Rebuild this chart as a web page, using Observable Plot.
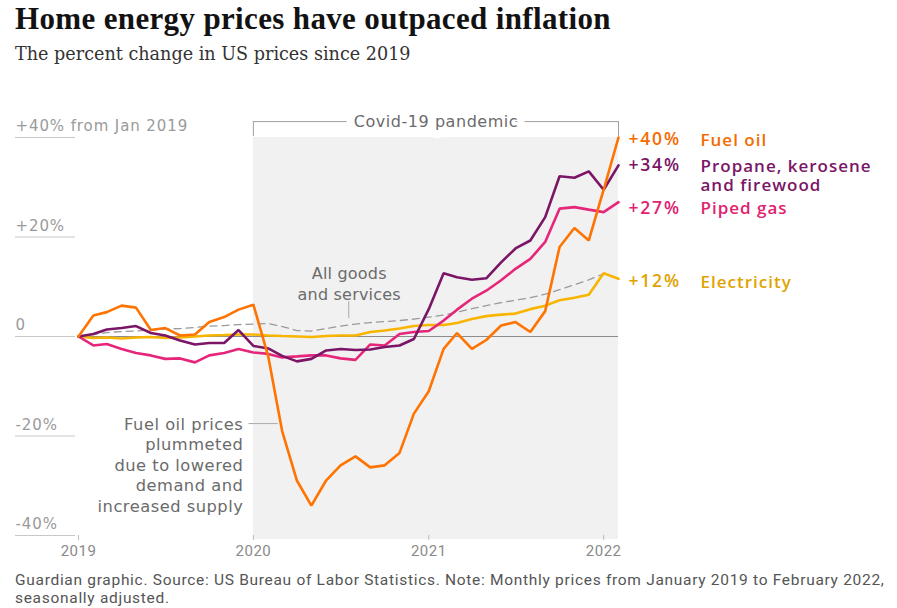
<!DOCTYPE html>
<html><head><meta charset="utf-8">
<script src="https://cdn.jsdelivr.net/npm/d3@7"></script>
<script src="https://cdn.jsdelivr.net/npm/@observablehq/plot@0.6"></script>
<style>
body{margin:0;background:#fff;width:897px;overflow:hidden;}
#title{font-family:"Liberation Serif",serif;font-weight:bold;font-size:31px;line-height:38px;height:38px;padding-left:15px;color:#121212;letter-spacing:0.35px;white-space:nowrap;}
#subtitle{font-family:"DejaVu Serif",serif;font-size:17.6px;line-height:32px;height:32px;padding-left:15px;color:#333;white-space:nowrap;}
#chart{height:500px;}
#caption{font-family:Roboto,sans-serif;font-size:15.5px;line-height:18px;padding-left:15px;padding-top:1px;color:#555;letter-spacing:0.7px;white-space:nowrap;}
</style>
</head><body>
<div id="title">Home energy prices have outpaced inflation</div>
<div id="subtitle">The percent change in US prices since 2019</div>
<div id="chart"></div>
<div id="caption">Guardian graphic. Source: US Bureau of Labor Statistics. Note: Monthly prices from January 2019 to February 2022,<br>seasonally adjusted.</div>
<script>
// ---- data (percent change since Jan 2019, monthly Jan 2019 – Feb 2022) ----
const fuelOil = [0,4.2,4.9,6.2,5.8,1.3,1.7,0.2,0.4,2.9,3.9,5.4,6.4,
  -4,-19,-29,-34,-28.9,-25.9,-24.1,-26.3,-25.9,-23.4,-15.5,-11,
  -2.5,0.7,-2.5,-0.7,2.2,2.9,0.9,5.1,18,21.8,19.3,29.5,40];
const propane = [0,0.5,1.4,1.7,2.1,0.7,0.2,-0.8,-1.6,-1.3,-1.3,1.3,-1.9,
  -2.4,-3.9,-5.0,-4.5,-2.8,-2.5,-2.7,-2.6,-2.1,-1.8,-0.5,5.5,
  12.7,11.9,11.4,11.7,14.9,17.7,19.3,24,32.2,31.9,33.2,29.5,34.4];
const pipedGas = [0,-1.8,-1.5,-2.5,-3.3,-3.8,-4.5,-4.4,-5.2,-3.8,-3.3,-2.5,-3.2,
  -3.5,-4.2,-4.0,-3.8,-3.8,-4.4,-4.7,-1.6,-1.8,0.5,0.9,1.1,
  3.2,5.4,7.6,9.2,11.3,13.6,15.6,19,25.7,26,25.5,25,27];
const electricity = [0,-0.3,-0.2,-0.4,-0.2,-0.1,-0.3,-0.2,0,0.2,0.3,0.4,0.4,
  0.2,0.1,0,-0.1,0.1,0.2,0.2,0.9,1.2,1.6,2.1,2.3,
  2.3,2.7,3.5,4.1,4.4,4.6,5.5,6.2,7.3,7.8,8.4,12.7,11.6];
const allItems = [0,0.4,0.8,1.0,1.1,1.3,1.5,1.6,1.8,2.1,2.2,2.4,2.5,
  2.6,2.0,1.2,1.1,1.6,2.1,2.5,2.8,3.0,3.2,3.5,3.9,
  4.3,4.9,5.6,6.2,6.8,7.3,7.8,8.5,9.4,10.4,11.4,12.6];
const seriesNames = ["Electricity","Piped gas","Propane, kerosene\nand firewood","Fuel oil"];
const seriesValues = [electricity, pipedGas, propane, fuelOil];
const yTicks = [40, 20, 0, -20, -40];
const yTickLabels = ["+40% from Jan 2019", "+20%", "0", "-20%", "-40%"];
const xTicks = ["2019-01-01","2020-01-01","2021-01-01","2022-01-01"];
const covidPeriod = [{start: "2020-01-01", end: "2022-02-01", label: "Covid-19 pandemic"}];

// ---- build ----
const parse = s => new Date(s + "T00:00:00Z");
const start = parse("2019-01-01"), end = parse("2022-02-01");
const months = d3.utcMonth.range(start, d3.utcMonth.offset(end, 1));
const colors = {"Electricity":"#f7b500","Piped gas":"#e5267a","Propane, kerosene\nand firewood":"#7b1566","Fuel oil":"#ff7300"};
const textColors = {"Electricity":"#dfa300","Piped gas":"#e0226f","Propane, kerosene\nand firewood":"#7b1566","Fuel oil":"#f56b00"};
// pixel nudges for end labels (to avoid collisions), converted into y units below
const pctNudge = {"Electricity":3,"Piped gas":6,"Propane, kerosene\nand firewood":0,"Fuel oil":2};
const nameNudge = {"Electricity":3,"Piped gas":6,"Propane, kerosene\nand firewood":10,"Fuel oil":2};

const H = 500, mTop = 67, mBottom = 35;
const pxPerUnit = (H - mTop - mBottom) / 80;

const rows = seriesNames.flatMap((name, i) => seriesValues[i].map((v, j) => ({name, date: months[j], value: v})));
const allRows = allItems.map((v, j) => ({date: months[j], value: v}));
const last = seriesNames.map((name, i) => {
  const vals = seriesValues[i];
  return {name, date: months[vals.length - 1], value: vals[vals.length - 1]};
});
const covid = covidPeriod.map(d => ({start: parse(d.start), end: parse(d.end), label: d.label,
  mid: new Date((parse(d.start).getTime() + parse(d.end).getTime()) / 2)}));
const bracketY = 43.2, bracketLow = 40.2;
const fmtPct = v => (v > 0 ? "+" : "") + Math.round(v) + "%";
const sans = "'DejaVu Sans', sans-serif";
const labelFont = "'Open Sans', sans-serif";

const chart = Plot.plot({
  width: 897, height: H,
  marginTop: mTop, marginBottom: mBottom, marginLeft: 78, marginRight: 279,
  x: {type: "utc", domain: [start, end], label: null},
  y: {domain: [-40, 40], label: null},
  style: {fontFamily: sans, background: "white", overflow: "visible"},
  marks: [
    Plot.rect(covid, {x1: "start", x2: "end", y1: -40.8, y2: 40, fill: "#f1f1f1"}),
    Plot.axisY({ticks: yTicks, tickSize: 60, dx: -3, stroke: "#c8c8c8", fill: "none", strokeWidth: 1, label: null}),
    Plot.axisY({ticks: yTicks, tickSize: 0, tickPadding: 0, dx: -63, dy: -11, textAnchor: "start", label: null,
      tickFormat: d => yTickLabels[yTicks.indexOf(d)], fill: "#9a9a9a", fontSize: 15, ariaDescription: "ylabels"}),
    Plot.axisX({ticks: xTicks.map(parse), tickFormat: d3.utcFormat("%Y"), tickSize: 5, tickPadding: 5, label: null,
      stroke: "#bbb", fill: "#8a8a8a", fontSize: 15, fontFamily: "Roboto, sans-serif", ariaDescription: "xlabels"}),
    Plot.ruleY([0], {stroke: "#8c8c8c", strokeWidth: 1}),
    // Covid bracket
    Plot.ruleY(covid, {y: () => bracketY, x1: "start", x2: "end", stroke: "#a0a0a0"}),
    Plot.ruleX(covid, {x: "start", y1: bracketLow, y2: bracketY, stroke: "#a0a0a0"}),
    Plot.ruleX(covid, {x: "end", y1: bracketLow, y2: bracketY, stroke: "#a0a0a0"}),
    Plot.text(covid, {x: "mid", y: () => bracketY, text: "label", fill: "#6b6b6b", fontSize: 16,
      stroke: "white", strokeWidth: 16, paintOrder: "stroke", ariaDescription: "covid"}),
    // All goods and services
    Plot.line(allRows, {x: "date", y: "value", stroke: "#9a9a9a", strokeWidth: 1.3, strokeDasharray: "7,5"}),
    Plot.ruleX([parse("2020-07-18")], {y1: 3.6, y2: 7.0, stroke: "#aaa"}),
    Plot.text(["All goods\nand services"], {x: parse("2020-07-19"), y: 10.75, fill: "#6b6b6b", fontSize: 16, lineHeight: 1.3, ariaDescription: "annot"}),
    // series
    Plot.line(rows, {x: "date", y: "value", z: "name", stroke: d => colors[d.name], strokeWidth: 2.6, strokeLinejoin: "miter"}),
    // fuel oil annotation
    Plot.ruleY([-17.5], {x1: parse("2019-12-23"), x2: parse("2020-02-22"), stroke: "#aaa"}),
    Plot.text(["Fuel oil prices\nplummeted\ndue to lowered\ndemand and\nincreased supply"], {
      x: parse("2019-12-11"), y: -25.7, textAnchor: "end", fill: "#6b6b6b", fontSize: 16.3, lineHeight: 1.26, ariaDescription: "fuelannot"}),
    // end labels
    Plot.text(last, {x: "date", y: d => d.value - pctNudge[d.name] / pxPerUnit, text: d => fmtPct(d.value), dx: 10,
      textAnchor: "start", fill: d => textColors[d.name], fontSize: 17.5, fontWeight: 600, fontFamily: labelFont, ariaDescription: "pct"}),
    Plot.text(last, {x: "date", y: d => d.value - nameNudge[d.name] / pxPerUnit, text: "name", dx: 82,
      textAnchor: "start", fill: d => textColors[d.name], fontSize: 17, fontWeight: 600, fontFamily: labelFont, lineHeight: 1.15, ariaDescription: "names"})
  ]
});
const spacing = {ylabels: "0.9px", annot: "0.2px", covid: "0.55px", fuelannot: "0.5px", pct: "1.8px", names: "1px", xlabels: "0.5px"};
for (const [k, v] of Object.entries(spacing)) {
  chart.querySelectorAll(`g[aria-description="${k}"]`).forEach(g => g.setAttribute("letter-spacing", v));
}
document.getElementById("chart").append(chart);
</script>
</body></html>
